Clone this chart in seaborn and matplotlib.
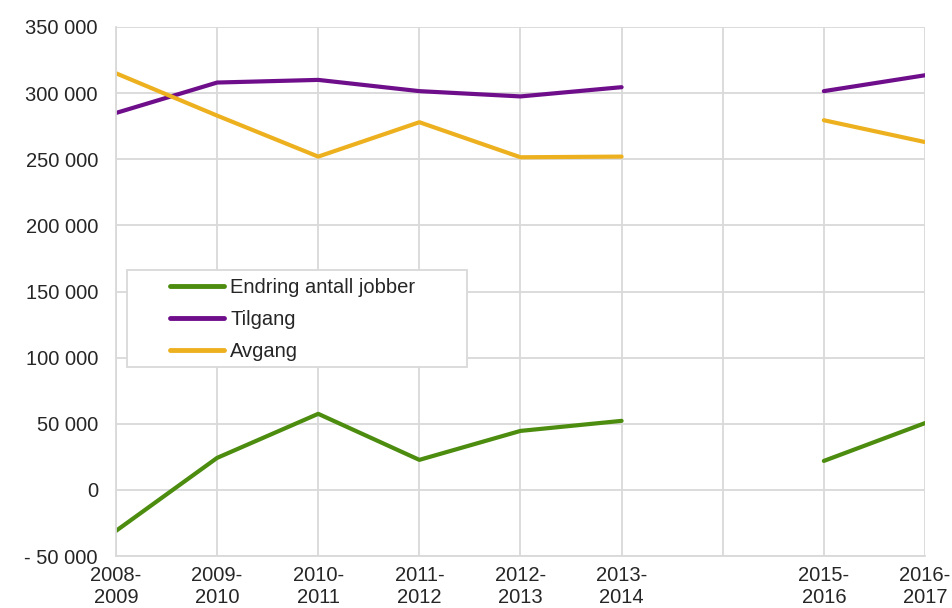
import numpy as np
import pandas as pd
import matplotlib
matplotlib.use("Agg")
import matplotlib.pyplot as plt
import seaborn as sns
from matplotlib.ticker import FuncFormatter
from matplotlib.patches import Rectangle

periods = ["2008-2009", "2009-2010", "2010-2011", "2011-2012", "2012-2013",
           "2013-2014", "2014-2015", "2015-2016", "2016-2017"]
tick_labels = ["2008-\n2009", "2009-\n2010", "2010-\n2011", "2011-\n2012", "2012-\n2013",
               "2013-\n2014", "", "2015-\n2016", "2016-\n2017"]
endring = [-31000, 24200, 57500, 22700, 44600, 52200, np.nan, 21900, 50500]
tilgang = [285000, 308000, 310000, 301500, 297500, 304500, np.nan, 301500, 313500]
avgang = [315000, 283000, 252000, 278000, 251500, 252000, np.nan, 279500, 263000]
series_names = ["Endring antall jobber", "Tilgang", "Avgang"]
colors = ["#4C8C0E", "#6F0E8B", "#EDB120"]

rows = []
for name, vals in zip(series_names, [endring, tilgang, avgang]):
    seg = 0
    for i, v in enumerate(vals):
        if np.isnan(v):
            seg += 1
            continue
        rows.append({"x": i, "value": v, "series": name, "seg": seg})
df = pd.DataFrame(rows)

sns.set_theme(style="white")
plt.rcParams["font.family"] = ["Liberation Sans", "DejaVu Sans"]

FS = 14.5
fig = plt.figure(figsize=(9.53, 6.08), dpi=100)
ax = fig.add_axes([0.1217, 0.0855, 0.8489, 0.8701])

sns.lineplot(data=df, x="x", y="value", hue="series", units="seg", estimator=None,
             palette=dict(zip(series_names, colors)), hue_order=series_names,
             linewidth=3, ax=ax, sort=False)

ax.set_xlim(0, len(periods) - 1)
ax.set_ylim(-50000, 350000)
ax.set_xticks(range(len(periods)))
ax.set_xticklabels(tick_labels, fontsize=FS, linespacing=1.2)
ax.set_yticks(range(-50000, 350001, 50000))

def fmt(v, pos):
    s = f"{abs(int(v)):,}".replace(",", " ")
    return ("- " + s) if v < 0 else s

ax.yaxis.set_major_formatter(FuncFormatter(fmt))
ax.tick_params(axis="y", labelsize=FS, length=0, pad=13)
ax.tick_params(axis="x", length=0, pad=7)
ax.set_xlabel("")
ax.set_ylabel("")
ax.grid(True, color="#D9D9D9", linewidth=1.3)
ax.set_axisbelow(True)
for s in ["top", "right"]:
    ax.spines[s].set_visible(False)
for s in ["left", "bottom"]:
    ax.spines[s].set_color("#D9D9D9")
    ax.spines[s].set_linewidth(1.3)

# legend frame box
ax.add_patch(Rectangle((0.0136, 0.357), 0.42, 0.184, transform=ax.transAxes,
                       facecolor="white", edgecolor="#D9D9D9", linewidth=1.3, zorder=5))
leg = ax.legend(loc="upper left", bbox_to_anchor=(0.0667, 0.5255),
                fontsize=FS, frameon=False,
                handlelength=2.7, handletextpad=0.3, borderpad=0, labelspacing=0.65,
                borderaxespad=0)
leg.set_zorder(6)
for line in leg.get_lines():
    line.set_linewidth(3.5)
    line.set_solid_capstyle("round")

fig.savefig("out.png", dpi=100)
